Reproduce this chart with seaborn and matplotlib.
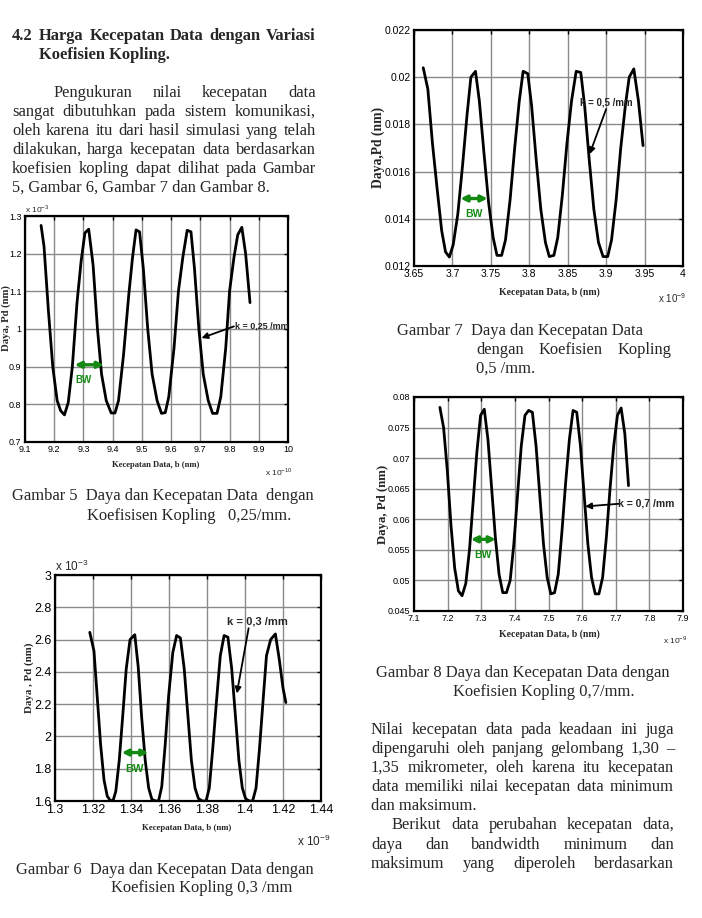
import matplotlib
matplotlib.use("Agg")
import matplotlib.pyplot as plt
import seaborn as sns
import pandas as pd

W, H = 702, 918

# ---------------- data ----------------
x5 = [9.155, 9.165, 9.18, 9.195, 9.21, 9.222, 9.235, 9.248, 9.262, 9.278, 9.292, 9.305, 9.318,
      9.333, 9.348, 9.362, 9.378, 9.395, 9.408, 9.42, 9.437, 9.455, 9.468, 9.48, 9.492, 9.505,
      9.52, 9.535, 9.552, 9.567, 9.58, 9.592, 9.61, 9.625, 9.64, 9.655, 9.668, 9.68, 9.695,
      9.71, 9.727, 9.742, 9.757, 9.77, 9.787, 9.8, 9.815, 9.828, 9.842, 9.855, 9.87]
y5 = [1.275, 1.22, 1.05, 0.90, 0.81, 0.783, 0.772, 0.805, 0.90, 1.07, 1.18, 1.255, 1.265,
      1.17, 1.00, 0.88, 0.81, 0.777, 0.777, 0.81, 0.93, 1.09, 1.19, 1.263, 1.258, 1.16,
      1.00, 0.88, 0.81, 0.776, 0.778, 0.82, 0.95, 1.10, 1.19, 1.262, 1.258, 1.16, 1.00,
      0.88, 0.81, 0.776, 0.776, 0.82, 0.95, 1.10, 1.19, 1.25, 1.27, 1.20, 1.07]

x6 = [1.3183, 1.3205, 1.3222, 1.3240, 1.3258, 1.3275, 1.3290, 1.3305, 1.3320, 1.3338, 1.3356,
      1.3375, 1.3395, 1.3420, 1.3438, 1.3456, 1.3475, 1.3493, 1.3510, 1.3530, 1.3545, 1.3562,
      1.3580, 1.3598, 1.3620, 1.3640, 1.3660, 1.3680, 1.3700, 1.3718, 1.3737, 1.3755, 1.3775,
      1.3795, 1.3812, 1.3830, 1.3850, 1.3870, 1.3890, 1.3910, 1.3930, 1.3950, 1.3968, 1.3986,
      1.4003, 1.4022, 1.4040, 1.4058, 1.4076, 1.4095, 1.4113, 1.4135, 1.4160, 1.4180, 1.4200,
      1.4215]
y6 = [2.645, 2.53, 2.25, 1.95, 1.73, 1.63, 1.605, 1.60, 1.66, 1.85, 2.12,
      2.42, 2.60, 2.63, 2.43, 2.12, 1.85, 1.68, 1.61, 1.60, 1.60, 1.69,
      1.95, 2.25, 2.52, 2.625, 2.61, 2.42, 2.12, 1.85, 1.68, 1.615, 1.60,
      1.60, 1.68, 1.92, 2.22, 2.50, 2.625, 2.615, 2.42, 2.12, 1.85, 1.68,
      1.615, 1.60, 1.60, 1.68, 1.92, 2.22, 2.50, 2.60, 2.635, 2.48, 2.30,
      2.21]

x7 = [3.6620, 3.6680, 3.6740, 3.6800, 3.6860, 3.6910, 3.6960, 3.7010, 3.7070, 3.7130, 3.7190,
      3.7240, 3.7300, 3.7350, 3.7410, 3.7470, 3.7530, 3.7580, 3.7640, 3.7690, 3.7750, 3.7810,
      3.7870, 3.7920, 3.7980, 3.8030, 3.8090, 3.8150, 3.8210, 3.8260, 3.8320, 3.8370, 3.8430,
      3.8490, 3.8550, 3.8610, 3.8670, 3.8720, 3.8780, 3.8840, 3.8900, 3.8960, 3.9020, 3.9070,
      3.9130, 3.9190, 3.9250, 3.9300, 3.9360, 3.9420, 3.9480]
y7 = [0.02040, 0.01950, 0.01720, 0.01530, 0.01350, 0.01260, 0.01238, 0.01290, 0.01420, 0.01620, 0.01840,
      0.02000, 0.02025, 0.01900, 0.01680, 0.01470, 0.01320, 0.01245, 0.01245, 0.01310, 0.01480, 0.01700,
      0.01900, 0.02025, 0.02015, 0.01880, 0.01650, 0.01440, 0.01300, 0.01240, 0.01245, 0.01320, 0.01500,
      0.01720, 0.01900, 0.02025, 0.02020, 0.01880, 0.01650, 0.01440, 0.01300, 0.01240, 0.01240, 0.01310,
      0.01480, 0.01700, 0.01880, 0.02000, 0.02035, 0.01900, 0.01710]

x8 = [7.1770, 7.1880, 7.1990, 7.2100, 7.2210, 7.2320, 7.2430, 7.2540, 7.2650, 7.2760, 7.2870,
      7.2980, 7.3090, 7.3200, 7.3310, 7.3420, 7.3530, 7.3640, 7.3750, 7.3860, 7.3970, 7.4080,
      7.4190, 7.4300, 7.4410, 7.4520, 7.4630, 7.4740, 7.4850, 7.4960, 7.5070, 7.5180, 7.5290,
      7.5400, 7.5510, 7.5620, 7.5730, 7.5840, 7.5950, 7.6060, 7.6170, 7.6280, 7.6390, 7.6500,
      7.6610, 7.6720, 7.6830, 7.6940, 7.7050, 7.7160, 7.7270, 7.7380]
y8 = [0.0783, 0.0750, 0.0680, 0.0590, 0.0520, 0.0483, 0.0475, 0.0495, 0.0550, 0.0630, 0.0710,
      0.0770, 0.0780, 0.0730, 0.0650, 0.0570, 0.0510, 0.0480, 0.0480, 0.0500, 0.0560, 0.0640,
      0.0720, 0.0770, 0.0778, 0.0775, 0.0720, 0.0640, 0.0560, 0.0505, 0.0478, 0.0480, 0.0510,
      0.0580, 0.0660, 0.0730, 0.0778, 0.0775, 0.0720, 0.0640, 0.0560, 0.0505, 0.0478, 0.0478,
      0.0505, 0.0570, 0.0650, 0.0720, 0.0770, 0.0782, 0.0740, 0.0655]

xt5 = [9.1, 9.2, 9.3, 9.4, 9.5, 9.6, 9.7, 9.8, 9.9, 10.0]
xl5 = ["9.1", "9.2", "9.3", "9.4", "9.5", "9.6", "9.7", "9.8", "9.9", "10"]
yt5 = [0.7, 0.8, 0.9, 1.0, 1.1, 1.2, 1.3]
yl5 = ["0.7", "0.8", "0.9", "1", "1.1", "1.2", "1.3"]

xt6 = [1.30, 1.32, 1.34, 1.36, 1.38, 1.40, 1.42, 1.44]
xl6 = ["1.3", "1.32", "1.34", "1.36", "1.38", "1.4", "1.42", "1.44"]
yt6 = [1.6, 1.8, 2.0, 2.2, 2.4, 2.6, 2.8, 3.0]
yl6 = ["1.6", "1.8", "2", "2.2", "2.4", "2.6", "2.8", "3"]

xt7 = [3.65, 3.70, 3.75, 3.80, 3.85, 3.90, 3.95, 4.00]
xl7 = ["3.65", "3.7", "3.75", "3.8", "3.85", "3.9", "3.95", "4"]
yt7 = [0.012, 0.014, 0.016, 0.018, 0.020, 0.022]
yl7 = ["0.012", "0.014", "0.016", "0.018", "0.02", "0.022"]

xt8 = [7.1, 7.2, 7.3, 7.4, 7.5, 7.6, 7.7, 7.8, 7.9]
xl8 = ["7.1", "7.2", "7.3", "7.4", "7.5", "7.6", "7.7", "7.8", "7.9"]
yt8 = [0.045, 0.05, 0.055, 0.06, 0.065, 0.07, 0.075, 0.08]
yl8 = ["0.045", "0.05", "0.055", "0.06", "0.065", "0.07", "0.075", "0.08"]

# ---------------- style ----------------
sns.set_style("white")
plt.rcParams["font.family"] = ["Liberation Sans Narrow", "Liberation Sans", "DejaVu Sans"]
plt.rcParams["mathtext.fontset"] = "custom"
plt.rcParams["mathtext.rm"] = "Liberation Sans"

SERIF = ["Liberation Serif", "DejaVu Serif"]
GREEN = "#148a14"

fig = plt.figure(figsize=(W / 100, H / 100), dpi=100)
fig.patch.set_facecolor("white")


def px_axes(l, t, r, b):
    return fig.add_axes([l / W, 1 - b / H, (r - l) / W, (b - t) / H])


def ftext(x, y, s, **kw):
    return fig.text(x / W, 1 - y / H, s, **kw)


def make_chart(box, xs, ys, xt, xl, yt, yl, xlim, ylim, tick_fs):
    ax = px_axes(*box)
    df = pd.DataFrame({"x": xs, "y": ys})
    sns.lineplot(data=df, x="x", y="y", ax=ax, color="black", lw=2.0,
                 sort=False, estimator=None)
    ax.set_xlim(*xlim)
    ax.set_ylim(*ylim)
    ax.set_xticks(xt)
    ax.set_xticklabels(xl)
    ax.set_yticks(yt)
    ax.set_yticklabels(yl)
    ax.set_xlabel("")
    ax.set_ylabel("")
    ax.grid(True, color="#8a8a8a", lw=1.0)
    ax.tick_params(direction="in", top=True, right=True, length=3, width=1,
                   labelsize=tick_fs, colors="black")
    ax.tick_params(axis="x", pad=2.5)
    ax.tick_params(axis="y", pad=2.5)
    for s in ax.spines.values():
        s.set_color("black")
        s.set_linewidth(1.6)
    return ax


def bw(ax, x0, x1, y, tx, ty, fs):
    ax.annotate("", xy=(x1, y), xytext=(x0, y),
                arrowprops=dict(arrowstyle="<|-|>", color=GREEN, lw=2.4,
                                mutation_scale=9, shrinkA=0, shrinkB=0))
    ax.text(tx, ty, "BW", color=GREEN, fontsize=fs, fontweight="bold",
            ha="center", va="center")


def klabel(ax, text, tx, ty, ax0, ay0, ax1, ay1, fs, ha="left"):
    ax.text(tx, ty, text, fontsize=fs, fontweight="bold", ha=ha, va="center")
    ax.annotate("", xy=(ax1, ay1), xytext=(ax0, ay0),
                arrowprops=dict(arrowstyle="-|>", color="black", lw=1.3,
                                mutation_scale=9, shrinkA=0, shrinkB=0))


# Chart 5
ax5 = make_chart((25, 216, 288, 442), x5, y5, xt5, xl5, yt5, yl5, (9.1, 10.0), (0.7, 1.3), 6.5)
bw(ax5, 9.27, 9.37, 0.905, 9.30, 0.865, 7)
klabel(ax5, "k = 0,25 /mm", 9.818, 1.008, 9.815, 1.007, 9.704, 0.976, 6.5)
ftext(25, 209, r"x 10$^{-3}$", fontsize=6, ha="left", va="center")
ftext(265, 472, r"x 10$^{-10}$", fontsize=6, ha="left", va="center")
ftext(156, 465, "Kecepatan Data, b (nm)", family=SERIF, fontweight="bold", fontsize=6.2,
      ha="center", va="center")
ftext(6, 318, "Daya, Pd (nm)", family=SERIF, fontweight="bold", fontsize=7.7,
      ha="center", va="center", rotation=90)

# Chart 6
ax6 = make_chart((55, 575, 321, 801), x6, y6, xt6, xl6, yt6, yl6, (1.30, 1.44), (1.6, 3.0), 9)
bw(ax6, 1.3351, 1.3492, 1.90, 1.3418, 1.80, 8)
klabel(ax6, "k = 0,3 /mm", 1.3905, 2.71, 1.4019, 2.67, 1.3957, 2.266, 8)
ftext(55, 566, r"x 10$^{-3}$", fontsize=8.5, ha="left", va="center")
ftext(297, 841, r"x 10$^{-9}$", fontsize=8.5, ha="left", va="center")
ftext(187, 828, "Kecepatan Data, b (nm)", family=SERIF, fontweight="bold", fontsize=6.3,
      ha="center", va="center")
ftext(29, 678, "Daya , Pd (nm)", family=SERIF, fontweight="bold", fontsize=7.8,
      ha="center", va="center", rotation=90)

# Chart 7
ax7 = make_chart((414, 30, 683, 266), x7, y7, xt7, xl7, yt7, yl7, (3.65, 4.0), (0.012, 0.022), 7.5)
bw(ax7, 3.7103, 3.7458, 0.01486, 3.728, 0.0142, 7.5)
klabel(ax7, "k = 0,5 /mm", 3.8655, 0.01893, 3.900, 0.01865, 3.8785, 0.01674, 7)
ftext(658, 298, r"x 10$^{-9}$", fontsize=7, ha="left", va="center")
ftext(549, 292, "Kecepatan Data, b (nm)", family=SERIF, fontweight="bold", fontsize=7,
      ha="center", va="center")
ftext(378, 147, "Daya,Pd (nm)", family=SERIF, fontweight="bold", fontsize=9.8,
      ha="center", va="center", rotation=90)

# Chart 8
ax8 = make_chart((414, 397, 683, 611), x8, y8, xt8, xl8, yt8, yl8, (7.1, 7.9), (0.045, 0.08), 6.5)
bw(ax8, 7.269, 7.3435, 0.05672, 7.3058, 0.0541, 7.5)
klabel(ax8, "k = 0,7 /mm", 7.708, 0.06253, 7.708, 0.06253, 7.609, 0.0621, 7.5)
ftext(663, 640, r"x 10$^{-9}$", fontsize=6, ha="left", va="center")
ftext(549, 634, "Kecepatan Data, b (nm)", family=SERIF, fontweight="bold", fontsize=7,
      ha="center", va="center")
ftext(383, 504, "Daya, Pd (nm)", family=SERIF, fontweight="bold", fontsize=9.2,
      ha="center", va="center", rotation=90)

# ---------------- page text ----------------
FS = 11.9
renderer = fig.canvas.get_renderer()


def justify(line, x0, x1, y, **kw):
    words = line.split()
    texts = [ftext(0, y, w, family=SERIF, fontsize=FS, va="center", ha="left", **kw)
             for w in words]
    widths = [t.get_window_extent(renderer).width for t in texts]
    gap = (x1 - x0 - sum(widths)) / max(len(words) - 1, 1)
    x = x0
    for t, w in zip(texts, widths):
        t.set_position((x / W, 1 - y / H))
        x += w + gap


def plain(line, x, y, **kw):
    ftext(x, y, line, family=SERIF, fontsize=FS, va="center", ha="left", **kw)


plain("4.2", 12, 36, fontweight="bold")
justify("Harga Kecepatan Data dengan Variasi", 39, 316, 36, fontweight="bold")
plain("Koefisien Kopling.", 39, 55, fontweight="bold")
justify("Pengukuran nilai kecepatan data", 54, 316, 93)
justify("sangat dibutuhkan pada sistem komunikasi,", 12, 316, 112)
justify("oleh karena itu dari hasil simulasi yang telah", 12, 316, 131)
justify("dilakukan, harga kecepatan data berdasarkan", 12, 316, 150)
justify("koefisien kopling  dapat dilihat pada Gambar", 12, 316, 169)
plain("5, Gambar 6, Gambar 7 dan Gambar 8.", 12, 188)

plain("Gambar 5  Daya dan Kecepatan Data  dengan", 12, 496)
plain("Koefisisen Kopling   0,25/mm.", 87, 516)
plain("Gambar 6  Daya dan Kecepatan Data dengan", 16, 870)
plain("Koefisien Kopling 0,3 /mm", 111, 888)

plain("Gambar 7  Daya dan Kecepatan Data", 397, 331)
justify("dengan Koefisien Kopling", 476, 672, 350)
plain("0,5 /mm.", 476, 369)
plain("Gambar 8 Daya dan Kecepatan Data dengan", 376, 673)
plain("Koefisien Kopling 0,7/mm.", 453, 692)

justify("Nilai kecepatan data pada keadaan ini juga", 371, 674, 730)
justify("dipengaruhi oleh panjang gelombang 1,30 \u2013", 371, 674, 749)
justify("1,35 mikrometer, oleh karena itu kecepatan", 371, 674, 768)
justify("data memiliki nilai kecepatan data minimum", 371, 674, 787)
plain("dan maksimum.", 371, 806)
justify("Berikut data perubahan kecepatan data,", 392, 674, 825)
justify("daya dan bandwidth minimum dan", 371, 674, 845)
justify("maksimum yang diperoleh berdasarkan", 371, 674, 864)

fig.savefig("out.png", dpi=100, facecolor="white")
